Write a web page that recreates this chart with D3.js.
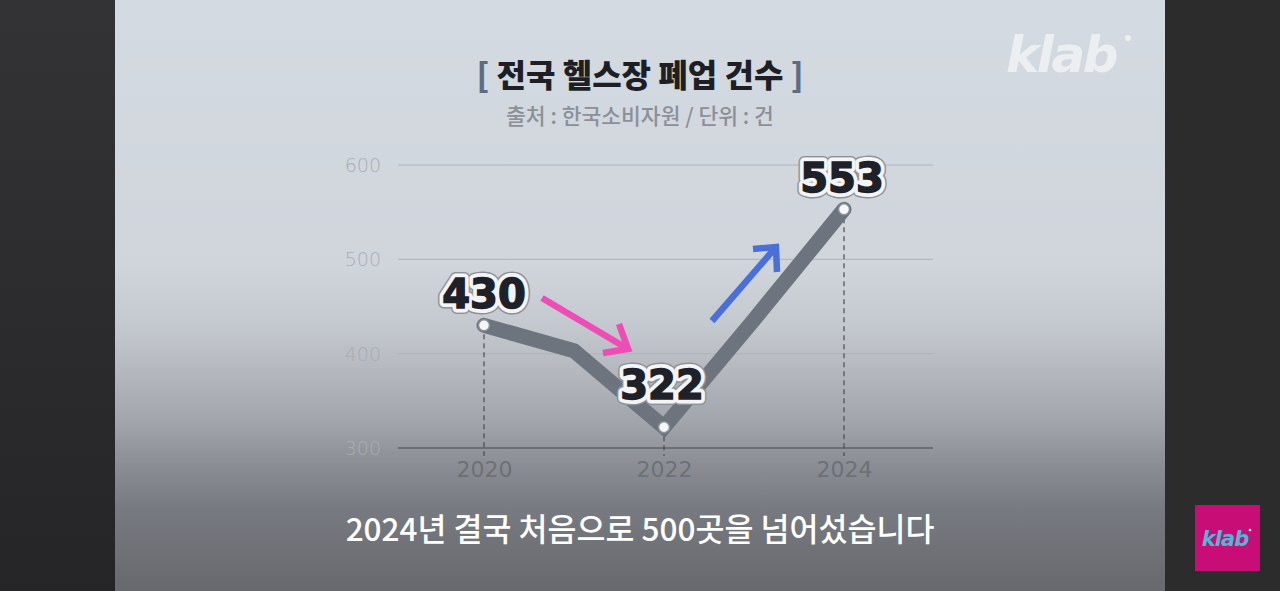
<!DOCTYPE html>
<html>
<head>
<meta charset="utf-8">
<script src="https://cdn.jsdelivr.net/npm/d3@7"></script>
<style>
html,body{margin:0;padding:0;background:#2b2b2d;overflow:hidden;}
svg{display:block;}
</style>
</head>
<body>
<svg id="chart" width="1280" height="591"></svg>
<script>
// ---- data ----
const years = [2020, 2021, 2022, 2023, 2024];
const closures = [430, 403, 322, 436, 553];
const labeledYears = [2020, 2022, 2024];
const labeledValues = [430, 322, 553];
const yTicks = [300, 400, 500, 600];
const xTicks = [2020, 2022, 2024];
const title = "전국 헬스장 폐업 건수";
const subtitle = "출처 : 한국소비자원 / 단위 : 건";
const caption = "2024년 결국 처음으로 500곳을 넘어섰습니다";

const svg = d3.select("#chart");
const W = 1280, H = 591;
const defs = svg.append("defs");

// backgrounds
const lg = defs.append("linearGradient").attr("id","leftbg").attr("x1",0).attr("y1",0).attr("x2",0).attr("y2",1);
lg.append("stop").attr("offset","0%").attr("stop-color","#333335");
lg.append("stop").attr("offset","100%").attr("stop-color","#252527");
svg.append("rect").attr("x",0).attr("y",0).attr("width",W).attr("height",H).attr("fill","#2c2c2d");
svg.append("rect").attr("x",0).attr("y",0).attr("width",115).attr("height",H).attr("fill","url(#leftbg)");

const pg = defs.append("linearGradient").attr("id","panelbg").attr("x1",0).attr("y1",0).attr("x2",0).attr("y2",1);
[["0%","#d4dae1"],["45%","#d0d5dc"],["55%","#c4c8cf"],["64%","#b2b5bc"],["72%","#a0a3aa"],["78%","#8c9096"],["86%","#777a80"],["100%","#67696e"]]
  .forEach(([o,c]) => pg.append("stop").attr("offset",o).attr("stop-color",c));
svg.append("rect").attr("x",115).attr("y",0).attr("width",1050).attr("height",H).attr("fill","url(#panelbg)");

// scales
const x = d3.scaleLinear().domain([2020, 2024]).range([484, 844]);
const y = d3.scaleLinear().domain([300, 600]).range([448, 165]);
const gridX0 = 398, gridX1 = 933;

// gridlines
svg.append("g").selectAll("line").data(yTicks.filter(t => t !== 300)).join("line")
  .attr("x1", gridX0).attr("x2", gridX1)
  .attr("y1", d => y(d)).attr("y2", d => y(d))
  .attr("stroke", "#aeb3ba").attr("stroke-width", 1);

// y axis labels
const yAxis = d3.axisLeft(y).tickValues(yTicks).tickSize(0).tickPadding(0).tickFormat(d3.format("d"));
const yg = svg.append("g").attr("transform", "translate(381,0)").call(yAxis);
yg.select(".domain").remove();
yg.selectAll("text").attr("fill", "#a8adb4").attr("font-family", "DejaVu Sans").attr("font-size", 19).attr("font-weight", 300).attr("dy","0.35em");

// baseline
svg.append("line").attr("x1", gridX0).attr("x2", gridX1).attr("y1", y(300)).attr("y2", y(300))
  .attr("stroke", "#6a6e75").attr("stroke-width", 2);

// x axis labels
const xAxis = d3.axisBottom(x).tickValues(xTicks).tickSize(0).tickPadding(0).tickFormat(d3.format("d"));
const xg = svg.append("g").attr("transform", `translate(0,${y(300)})`).call(xAxis);
xg.select(".domain").remove();
xg.selectAll("text").attr("fill", "#6c7077").attr("font-family", "DejaVu Sans").attr("font-size", 22).attr("dy", "1.3em");

// dashed drop lines
svg.append("g").selectAll("line").data(labeledYears).join("line")
  .attr("x1", d => x(d)).attr("x2", d => x(d))
  .attr("y1", (d,i) => y(labeledValues[i])).attr("y2", y(300) + 8)
  .attr("stroke", "#4a4d52").attr("stroke-width", 1.2).attr("stroke-dasharray", "5,4");

// line
const series = years.map((yr, i) => ({ yr, v: closures[i] }));
const line = d3.line().x(d => x(d.yr)).y(d => y(d.v));
svg.append("path").datum(series).attr("d", line)
  .attr("fill", "none").attr("stroke", "#6d747e").attr("stroke-width", 15)
  .attr("stroke-linejoin", "miter").attr("stroke-miterlimit", 3).attr("stroke-linecap","round");

// dots
svg.append("g").selectAll("circle").data(labeledYears).join("circle")
  .attr("cx", d => x(d)).attr("cy", (d,i) => y(labeledValues[i])).attr("r", 5.5)
  .attr("fill", "#f4f6f8").attr("stroke", "#8a9099").attr("stroke-width", 1.5);

// arrows
function arrow(x0, y0, x1, y1, a1, a2, color) {
  const g = svg.append("g").attr("stroke", color).attr("stroke-width", 6.5).attr("fill","none").attr("stroke-linecap","butt").attr("stroke-linejoin","miter");
  g.append("line").attr("x1", x0).attr("y1", y0).attr("x2", x1).attr("y2", y1);
  g.append("path").attr("d", `M${a1[0]},${a1[1]}L${x1},${y1}L${a2[0]},${a2[1]}`);
}
arrow(542, 298, 628, 349, [619, 324], [603, 353], "#ee4db5");
arrow(712, 321, 776, 247, [753, 249], [777, 272], "#4a70d8");

// value labels
const labelPos = [[484, 308], [662, 399], [842, 192]];
const lab = svg.append("g").attr("font-family", "DejaVu Sans").attr("font-weight", "bold").attr("font-size", 40).attr("text-anchor", "middle");
labeledValues.forEach((v, i) => {
  const [lx, ly] = labelPos[i];
  lab.append("text").attr("x", lx).attr("y", ly).text(v)
    .attr("fill", "none").attr("stroke", "#8d9198").attr("stroke-width", 12).attr("stroke-linejoin", "round");
  lab.append("text").attr("x", lx).attr("y", ly).text(v)
    .attr("fill", "none").attr("stroke", "#f2f4f6").attr("stroke-width", 9).attr("stroke-linejoin", "round");
  lab.append("text").attr("x", lx).attr("y", ly).text(v)
    .attr("fill", "#1f2128").attr("stroke", "#1f2128").attr("stroke-width", 1.5);
});

// title
const t = svg.append("text").attr("x", 640).attr("y", 87).attr("text-anchor", "middle")
  .attr("font-family", "Noto Sans CJK KR").attr("font-weight", 900).attr("font-size", 32).attr("fill", "#1d1f25");
t.append("tspan").attr("fill", "#5d6c84").text("[ ");
t.append("tspan").text(title);
t.append("tspan").attr("fill", "#5d6c84").text(" ]");

svg.append("text").attr("x", 640).attr("y", 124).attr("text-anchor", "middle")
  .attr("font-family", "Noto Sans CJK KR").attr("font-weight", 500).attr("font-size", 21.5).attr("fill", "#8b9097").text(subtitle);

// caption
svg.append("text").attr("x", 640).attr("y", 541).attr("text-anchor", "middle")
  .attr("font-family", "Noto Sans CJK KR").attr("font-weight", 500).attr("font-size", 31.5).attr("fill", "#ffffff").text(caption);

// watermark top right
const wm = svg.append("g");
wm.append("text").attr("x", 1006).attr("y", 72)
  .attr("font-family", "DejaVu Sans").attr("font-weight", "bold").attr("font-style", "italic")
  .attr("font-size", 50).attr("fill", "#f1f3f5").attr("opacity", 0.85).attr("letter-spacing", -2.5).text("klab");
wm.append("circle").attr("cx", 1128).attr("cy", 38).attr("r", 3).attr("fill", "#f1f3f5").attr("opacity", 0.85);

// pink badge
svg.append("rect").attr("x", 1195).attr("y", 505).attr("width", 65).attr("height", 66).attr("fill", "#c80e76");
svg.append("text").attr("x", 1225).attr("y", 546).attr("text-anchor", "middle")
  .attr("font-family", "DejaVu Sans").attr("font-weight", "bold").attr("font-style", "italic")
  .attr("font-size", 21).attr("letter-spacing", -1).attr("fill", "#52b6d8").text("klab");
svg.append("circle").attr("cx", 1250).attr("cy", 530).attr("r", 1.3).attr("fill", "#ffffff");
</script>
</body>
</html>
